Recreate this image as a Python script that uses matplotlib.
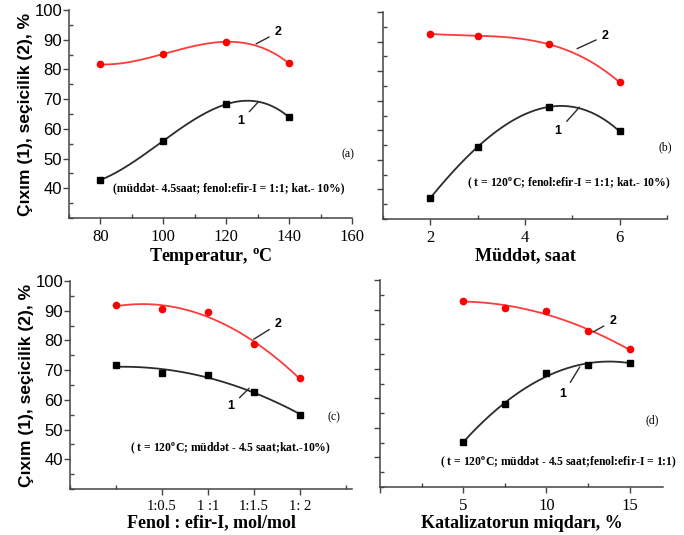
#!/usr/bin/env python3

import matplotlib
matplotlib.use("Agg")
import matplotlib.pyplot as plt
from matplotlib.ticker import MultipleLocator
import numpy as np

plt.rcParams["font.family"] = "Liberation Sans"
plt.rcParams["mathtext.fontset"] = "custom"
plt.rcParams["mathtext.rm"] = "Liberation Serif"
plt.rcParams["mathtext.bf"] = "Liberation Serif:bold"

# (a) temperature
temp = [80, 100, 120, 140]
temp_yield = [42.8, 56.0, 68.3, 63.9]
temp_select = [81.7, 85.2, 89.3, 82.0]

# (b) duration, hours
hours = [2, 3, 4.5, 6]
hours_yield = [37.1, 54.4, 67.9, 59.6]
hours_select = [92.6, 92.0, 89.1, 76.2]

# (c) molar ratio phenol : ether-I
ratio = [0, 0.5, 1.0, 1.5, 2.0]
ratio_labels = ["1:0.5", "1 :1", "1:1.5", "1: 2"]
ratio_yield = [71.7, 68.9, 68.4, 62.7, 55.0]
ratio_select = [91.9, 90.5, 89.6, 78.8, 67.3]

# (d) catalyst amount, %
cat = [5, 7.5, 10, 12.5, 15]
cat_yield = [45.3, 57.9, 68.4, 71.1, 72.1]
cat_select = [93.0, 90.5, 89.6, 82.6, 76.5]

RED = "#ff3b3b"
BLACK = "#2b2b2b"
SPINE = "#444444"
SERIF = "Liberation Serif"


def fit_curve(x, y, deg, lo, hi):
    p = np.polyfit(x, y, deg)
    xs = np.linspace(lo, hi, 200)
    return xs, np.polyval(p, xs)


def setup_axes(ax, xlim, show_ylabels):
    ax.set_ylim(30, 100)
    ax.set_xlim(*xlim)
    for s in ["top", "right"]:
        ax.spines[s].set_visible(False)
    for s in ["left", "bottom"]:
        ax.spines[s].set_color(SPINE)
        ax.spines[s].set_linewidth(1.1)
    ax.set_yticks([40, 50, 60, 70, 80, 90, 100])
    ax.yaxis.set_minor_locator(MultipleLocator(5))
    ax.tick_params(axis="both", which="major", direction="out", length=4,
                   color=SPINE, width=1)
    ax.tick_params(axis="both", which="minor", direction="in", length=3,
                   color=SPINE, width=1)
    ax.tick_params(axis="y", labelsize=12, pad=1)
    ax.tick_params(axis="x", labelsize=12, pad=4)
    for lab in ax.get_xticklabels():
        lab.set_family(SERIF)
    if not show_ylabels:
        ax.set_yticklabels([])
    else:
        ax.set_ylabel("Çıxım (1), seçicilik (2), %", fontsize=12.5,
                      fontweight="bold", labelpad=1)


def draw_series(ax, x, y_sel, y_yld, deg):
    xs, ys = fit_curve(x, y_sel, deg, x[0], x[-1])
    ax.plot(xs, ys, color=RED, lw=1.3, zorder=2)
    ax.plot(x, y_sel, "o", color="#ff0000", ms=4.5, zorder=3)
    xs, ys = fit_curve(x, y_yld, deg, x[0], x[-1])
    ax.plot(xs, ys, color=BLACK, lw=1.3, zorder=2)
    ax.plot(x, y_yld, "s", color="black", ms=3.8, zorder=3)


def curve_label(ax, text, xy, xytext):
    ax.annotate(text, xy=xy, xytext=xytext, fontsize=9, fontweight="bold",
                ha="center", va="center",
                arrowprops=dict(arrowstyle="-", color=BLACK, lw=1,
                                shrinkA=2.5, shrinkB=0))


def note(ax, text, x, y):
    ax.text(x, y, text, transform=ax.transAxes, family=SERIF,
            fontweight="bold", fontsize=8.4, va="center", ha="left")


def tag(ax, text, x, y):
    ax.text(x, y, text, transform=ax.transAxes, family=SERIF,
            fontsize=8.5, va="center", ha="center")


fig = plt.figure(figsize=(6.84, 5.35), dpi=100)
W, H = 684.0, 535.0


def add_axes(left, right, top, bottom):
    return fig.add_axes([left / W, 1 - bottom / H, (right - left) / W,
                         (bottom - top) / H])


ax_a = add_axes(69, 352, 10, 218)
ax_b = add_axes(383, 667, 12, 219)
ax_c = add_axes(70, 352, 281, 489)
ax_d = add_axes(380, 663, 280, 487)

# (a)
draw_series(ax_a, temp, temp_select, temp_yield, 3)
setup_axes(ax_a, (70, 160), True)
ax_a.set_xticks([80, 100, 120, 140, 160])
ax_a.xaxis.set_minor_locator(MultipleLocator(10))
for lab in ax_a.get_xticklabels():
    lab.set_family(SERIF)
ax_a.set_xlabel("Temperatur, $^\\mathbf{o}$C", family=SERIF,
                fontweight="bold", fontsize=13, labelpad=1)
curve_label(ax_a, "2", (129.5, 88.6), (136.6, 92.6))
curve_label(ax_a, "1", (130.3, 69.2), (124.6, 62.6))
note(ax_a, "(müddət- 4.5saat; fenol:efir-I = 1:1; kat.- 10%)", 0.155, 0.144)
tag(ax_a, "(a)", 0.986, 0.308)

# (b)
draw_series(ax_b, hours, hours_select, hours_yield, 3)
setup_axes(ax_b, (1, 7), False)
ax_b.set_xticks([2, 4, 6])
ax_b.xaxis.set_minor_locator(MultipleLocator(1))
for lab in ax_b.get_xticklabels():
    lab.set_family(SERIF)
ax_b.set_xlabel("Müddət, saat", family=SERIF, fontweight="bold",
                fontsize=13, labelpad=1)
curve_label(ax_b, "2", (5.1, 87.6), (5.7, 92.0))
curve_label(ax_b, "1", (5.15, 67.8), (4.7, 59.8))
note(ax_b, "( t = 120$^\\mathbf{o}$C; fenol:efir-I = 1:1; kat.- 10%)",
     0.296, 0.174)
tag(ax_b, "(b)", 0.993, 0.348)

# (c)
draw_series(ax_c, ratio, ratio_select, ratio_yield, 2)
setup_axes(ax_c, (-0.5, 2.57), True)
ax_c.set_xticks([0.5, 1.0, 1.5, 2.0])
ax_c.set_xticklabels(ratio_labels, family=SERIF, fontsize=10.5)
ax_c.xaxis.set_minor_locator(MultipleLocator(0.5))
ax_c.set_xlabel("Fenol : efir-I, mol/mol", family=SERIF, fontweight="bold",
                fontsize=13, labelpad=1)
curve_label(ax_c, "2", (1.5, 80.4), (1.77, 85.6))
curve_label(ax_c, "1", (1.45, 63.9), (1.25, 57.8))
note(ax_c, "( t = 120$^\\mathbf{o}$C; müddət - 4.5 saat;kat.-10%)",
     0.214, 0.197)
tag(ax_c, "(c)", 0.936, 0.346)

# (d)
draw_series(ax_d, cat, cat_select, cat_yield, 2)
setup_axes(ax_d, (0, 17), False)
ax_d.set_xticks([0, 5, 10, 15])
ax_d.set_xticklabels(["", "5", "10", "15"], family=SERIF)
ax_d.xaxis.set_minor_locator(MultipleLocator(2.5))
ax_d.set_xlabel("Katalizatorun miqdarı, %", family=SERIF,
                fontweight="bold", fontsize=13, labelpad=1)
curve_label(ax_d, "2", (12.8, 82.4), (14.0, 86.2))
curve_label(ax_d, "1", (12.0, 70.6), (11.0, 61.4))
note(ax_d, "( t = 120$^\\mathbf{o}$C; müddət - 4.5 saat;fenol:efir-I = 1:1)",
     0.212, 0.121)
tag(ax_d, "(d)", 0.961, 0.324)

fig.savefig("out.png", dpi=100)
